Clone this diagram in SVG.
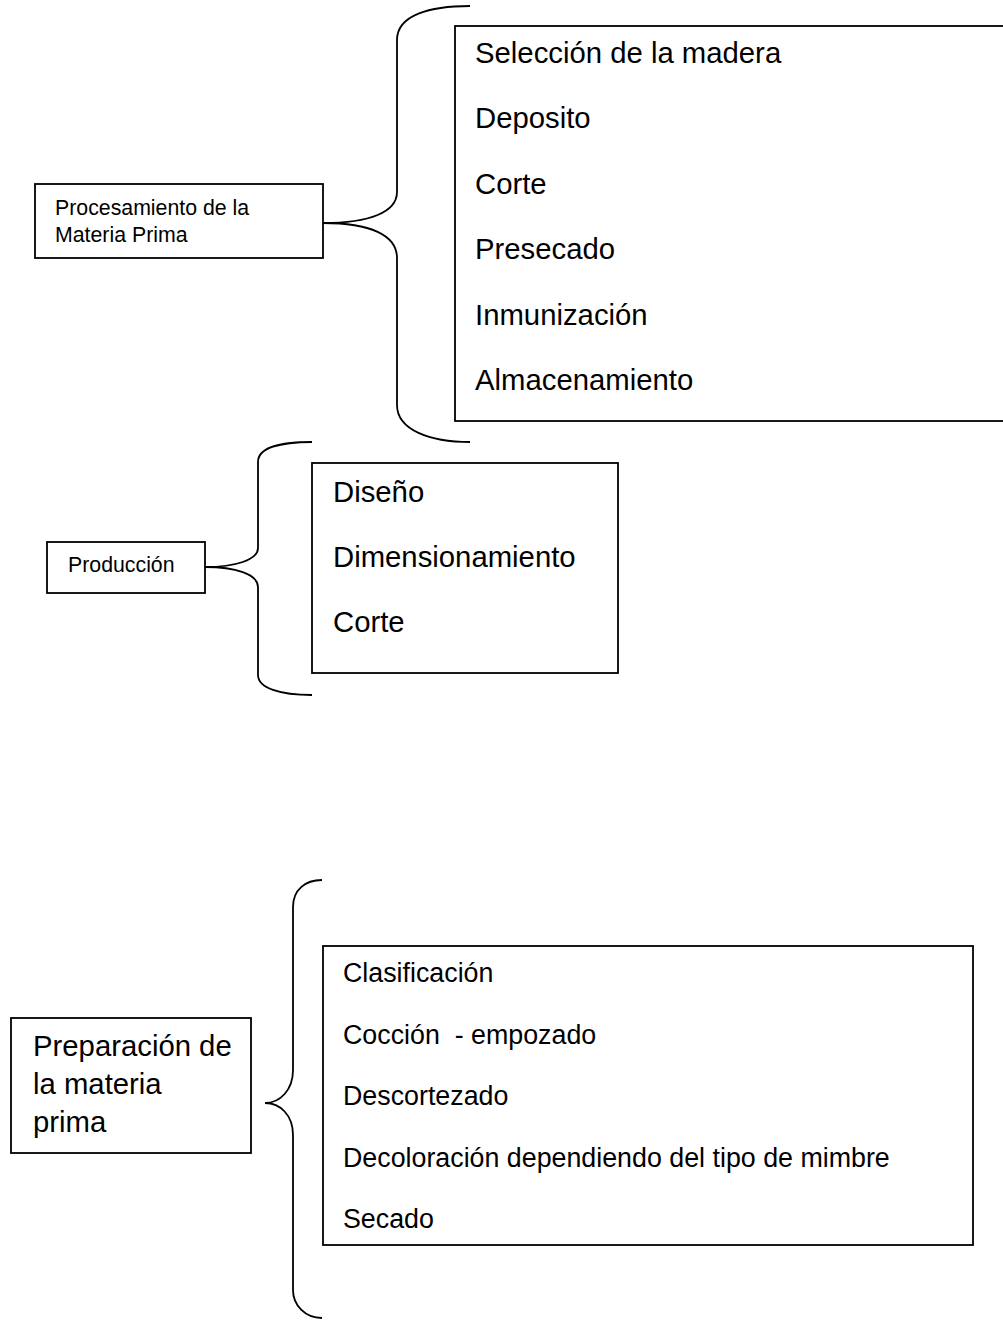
<svg xmlns="http://www.w3.org/2000/svg" width="1003" height="1322" viewBox="0 0 1003 1322">
<style>
.box{fill:#fff;stroke:#000;stroke-width:1.8}
.br{fill:none;stroke:#000;stroke-width:1.8}
text{font-family:"Liberation Sans",Arial,sans-serif;fill:#000}
.s{font-size:21.3px}
.b{font-size:29.3px}
.m{font-size:26.8px}
</style>
<rect width="1003" height="1322" fill="#fff"/>
<g id="connectors">
<path class="br" d="M470,6 C430,6 397,15 397,40 L397,192 C397,212 370,223 323,223 C370,223 397,235 397,258 L397,405 C397,430 430,442 470,442"/>
<path class="br" d="M312,442 C280,442 258,448 258,462 L258,548 C258,560 235,567 205,567 C235,567 258,574 258,587 L258,675 C258,688 280,695 312,695"/>
<path class="br" d="M322,880 C305,880 293,890 293,907 L293,1070 C293,1090 280,1103 265,1103 C280,1103 293,1115 293,1135 L293,1290 C293,1305 305,1318 322,1318"/>
</g>
<g id="procesamiento">
<rect class="box" x="35" y="184" width="288" height="74"/>
<text class="s" x="55" y="215">Procesamiento de la</text>
<text class="s" x="55" y="242">Materia Prima</text>
</g>
<g id="lista-procesamiento">
<rect class="box" x="455" y="26" width="600" height="395"/>
<text class="b" x="475" y="62.5">Selección de la madera</text>
<text class="b" x="475" y="128">Deposito</text>
<text class="b" x="475" y="193.5">Corte</text>
<text class="b" x="475" y="259">Presecado</text>
<text class="b" x="475" y="324.5">Inmunización</text>
<text class="b" x="475" y="390">Almacenamiento</text>
</g>
<g id="produccion">
<rect class="box" x="47" y="542" width="158" height="51"/>
<text class="s" x="68" y="572">Producción</text>
</g>
<g id="lista-produccion">
<rect class="box" x="312" y="463" width="306" height="210"/>
<text class="b" x="333" y="501.5">Diseño</text>
<text class="b" x="333" y="567">Dimensionamiento</text>
<text class="b" x="333" y="632">Corte</text>
</g>
<g id="preparacion">
<rect class="box" x="11" y="1018" width="240" height="135"/>
<text class="b" x="33" y="1056">Preparación de</text>
<text class="b" x="33" y="1094">la materia</text>
<text class="b" x="33" y="1132">prima</text>
</g>
<g id="lista-preparacion">
<rect class="box" x="323" y="946" width="650" height="299"/>
<text class="m" x="343" y="982">Clasificación</text>
<text class="m" x="343" y="1043.5" xml:space="preserve">Cocción  - empozado</text>
<text class="m" x="343" y="1105">Descortezado</text>
<text class="m" x="343" y="1166.5">Decoloración dependiendo del tipo de mimbre</text>
<text class="m" x="343" y="1228">Secado</text>
</g>
</svg>
